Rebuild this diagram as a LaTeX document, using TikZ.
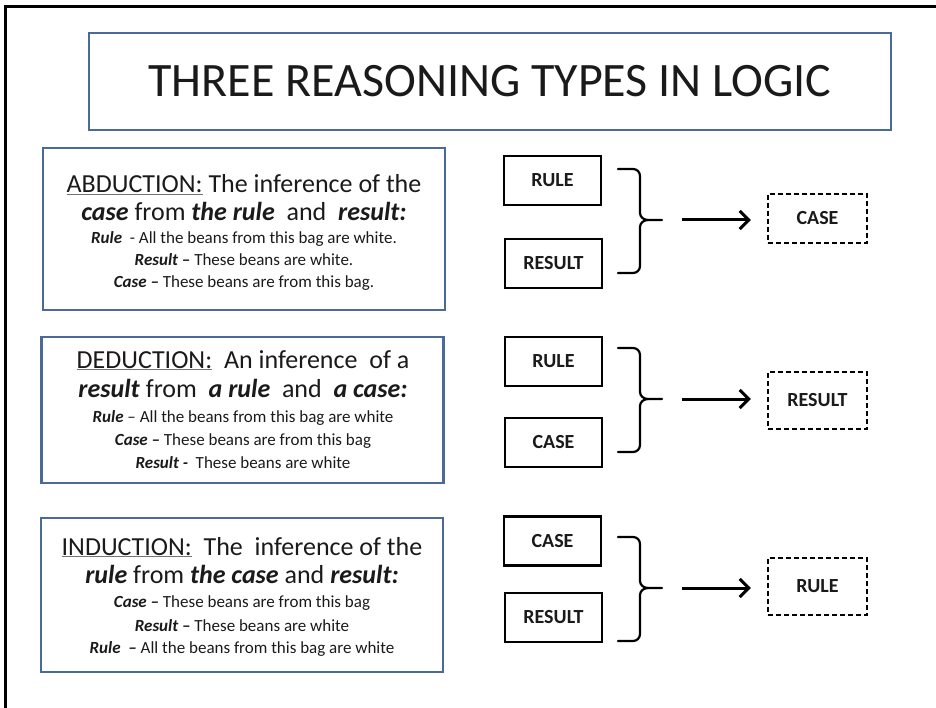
\documentclass[tikz,border=0pt]{standalone}
\usepackage{fontspec}
\setmainfont{Carlito}
\usetikzlibrary{arrows.meta}
\definecolor{boxblue}{HTML}{4A6A9A}
\definecolor{ink}{HTML}{1A1A1A}
\newcommand\hd[1]{{\color{black!55}\underline{\textcolor{ink}{#1}}}}
\newcommand\bi[1]{\textbf{\textit{#1}}}
\newcommand\mybrace[4]{%
  \draw[bracestyle] (618,#1) -- (633,#1) to[out=0,in=90] (640,#1+7) -- (640,#2-7) to[out=-90,in=180] (648,#2) -- (662,#2);
  \draw[bracestyle] (618,#3) -- (633,#3) to[out=0,in=-90] (640,#3-7) -- (640,#2+7) to[out=90,in=180] (648,#2);
  \coordinate (#4) at (662,#2);}
\begin{document}
\begin{tikzpicture}[x=1pt,y=-1pt,
  infobox/.style={draw=boxblue, line width=2.2pt, minimum width=402pt, inner sep=0pt},
  titlebox/.style={draw=boxblue, line width=1.8pt, minimum width=802pt, minimum height=97pt, inner sep=0pt, text=ink, font=\fontsize{48}{52}\selectfont},
  bigline/.style={anchor=base, inner sep=0pt, text=ink, font=\fontsize{26}{30}\selectfont},
  smallline/.style={anchor=base, inner sep=0pt, text=ink, font=\fontsize{17}{20}\selectfont},
  termbox/.style={draw=black, line width=2.3pt, minimum width=97pt, minimum height=49pt, inner sep=0pt, text=ink, font=\fontsize{20}{22}\selectfont\bfseries},
  outbox/.style={termbox, dash pattern=on 5pt off 3pt, minimum width=99pt},
  bracestyle/.style={line width=2.2pt, line cap=round},
  arrowline/.style={line width=3pt, -{Straight Barb[length=9pt,width=18pt]}, shorten <=20pt, shorten >=16pt}
]
\useasboundingbox (0,0) rectangle (936,708);
% outer frame
\draw[line width=3pt] (5,720) -- (5,7) -- (950,7);
% title
\node[titlebox] (title) at (490,81.5) {THREE REASONING TYPES IN LOGIC};

% ABDUCTION
\node[infobox, minimum height=162pt] (abd) at (244,229) {};
\node[bigline] (abd1) at (244,193) {\hd{ABDUCTION:} The inference of the};
\node[bigline] (abd2) at (244,221) {\bi{case} from \bi{the rule}\ \ and\ \ \bi{result:}};
\node[smallline] (abd3) at (244,244) {\bi{Rule}\ \ - All the beans from this bag are white.};
\node[smallline] (abd4) at (244,266) {\bi{Result –} These beans are white.};
\node[smallline] (abd5) at (244,288) {\bi{Case –} These beans are from this bag.};

% DEDUCTION
\node[infobox, minimum height=146pt] (ded) at (242.5,410) {};
\node[bigline] (ded1) at (243,368) {\hd{DEDUCTION:}\ \ An inference\ \ of a};
\node[bigline] (ded2) at (243,397) {\bi{result} from\ \ \bi{a rule}\ \ and\ \ \bi{a case:}};
\node[smallline] (ded3) at (243,422) {\bi{Rule} – All the beans from this bag are white};
\node[smallline] (ded4) at (243,445) {\bi{Case –} These beans are from this bag};
\node[smallline] (ded5) at (243,468) {\bi{Result -}\ \ These beans are white};

% INDUCTION
\node[infobox, minimum height=154pt] (ind) at (242,595) {};
\node[bigline] (ind1) at (242,555) {\hd{INDUCTION:}\ \ The\ \ inference of the};
\node[bigline] (ind2) at (242,583) {\bi{rule} from \bi{the case} and \bi{result:}};
\node[smallline] (ind3) at (242,607) {\bi{Case –} These beans are from this bag};
\node[smallline] (ind4) at (242,631) {\bi{Result –} These beans are white};
\node[smallline] (ind5) at (242,653) {\bi{Rule}\ \ \bi{–} All the beans from this bag are white};

% row 1
\node[termbox] (r1a) at (552.5,180.5) {RULE};
\node[termbox] (r1b) at (553.5,263.5) {RESULT};
\mybrace{169}{220}{273}{b1}
\node[outbox, minimum height=49pt] (o1) at (817.5,218.5) {CASE};
\draw[arrowline] (b1) -- (b1 -| o1.west);

% row 2
\node[termbox] (r2a) at (553.5,361.5) {RULE};
\node[termbox] (r2b) at (553.5,442.5) {CASE};
\mybrace{348}{399}{452}{b2}
\node[outbox, minimum height=57pt] (o2) at (817.5,400.5) {RESULT};
\draw[arrowline] (b2) -- (b2 -| o2.west);

% row 3
\node[termbox] (r3a) at (552.5,541) {CASE};
\node[termbox] (r3b) at (553.5,617.5) {RESULT};
\mybrace{537}{588}{641}{b3}
\node[outbox, minimum height=57pt] (o3) at (817.5,586.5) {RULE};
\draw[arrowline] (b3) -- (b3 -| o3.west);
\end{tikzpicture}
\end{document}
